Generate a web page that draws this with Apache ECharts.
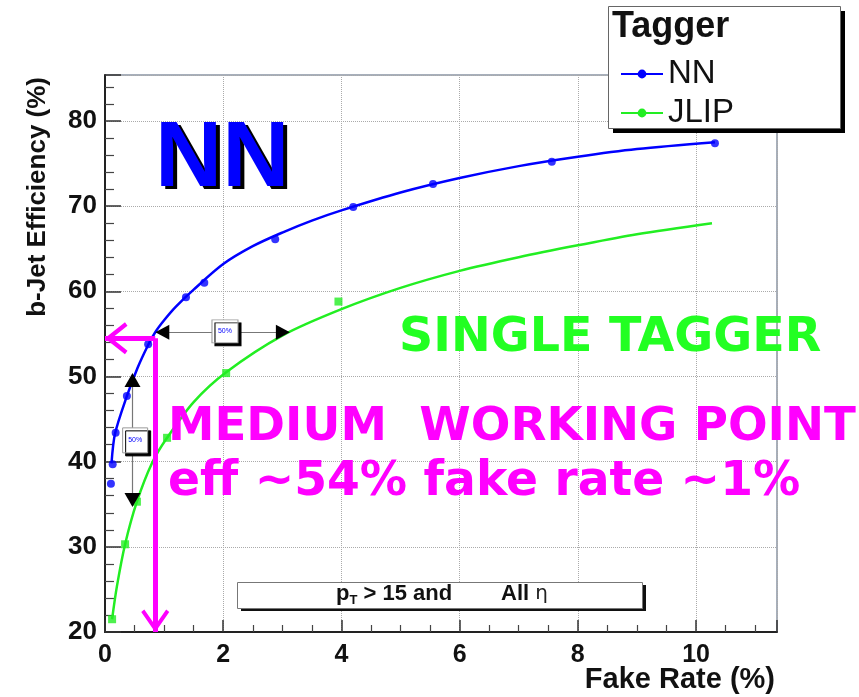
<!DOCTYPE html>
<html>
<head>
<meta charset="utf-8">
<script src="https://cdn.jsdelivr.net/npm/echarts@6.0.0/dist/echarts.min.js"></script>
<style>
  html, body { margin: 0; padding: 0; background: #fff; }
  #main { width: 859px; height: 697px; }
</style>
</head>
<body>
<div id="main"></div>
<script>
// measured points (fake rate %, b-jet efficiency %)
var nnFake = [0.10, 0.13, 0.18, 0.37, 0.73, 1.37, 1.68, 2.88, 4.20, 5.55, 7.56, 10.32];
var nnEff = [37.4, 39.7, 43.4, 47.7, 53.8, 59.3, 61.0, 66.1, 69.9, 72.6, 75.2, 77.4];
var jlipFake = [0.12, 0.34, 0.54, 1.05, 2.05, 3.95];
var jlipEff = [21.5, 30.3, 35.3, 42.8, 50.4, 58.8];

// fitted curves
var nnFitFake = [0.11, 0.17, 0.37, 0.55, 0.73, 0.85, 1.0, 1.2, 1.5, 2.0, 2.5, 3.0, 3.5, 4.0, 5.0, 6.0, 7.0, 8.0, 9.0, 10.32];
var nnFitEff = [39.8, 43.3, 47.7, 51.0, 53.7, 55.2, 56.6, 58.2, 60.2, 63.2, 65.3, 66.9, 68.3, 69.5, 71.6, 73.3, 74.7, 75.8, 76.7, 77.5];
var jlipFitFake = [0.12, 0.2, 0.34, 0.54, 0.8, 1.05, 1.5, 2.05, 3.0, 4.0, 5.0, 6.0, 7.0, 8.0, 9.0, 10.27];
var jlipFitEff = [21.5, 25.3, 30.3, 35.3, 39.9, 42.8, 47.0, 50.5, 54.8, 57.9, 60.4, 62.4, 64.0, 65.4, 66.7, 68.0];

// working point marked by the arrows
var wpFake = 0.85;
var wpEff = 54.5;

var blue = '#0000ff';
var green = '#22ee22';
var magenta = '#ff00ff';

function pairs(xs, ys) {
    return xs.map(function (x, i) { return [x, ys[i]]; });
}

// open arrow head, apex sits at the centre of the bounding box
var chevron = 'path://M16,0 L16,0.1 M16,22 L32,42 L28.5,44.5 L16,29 L3.5,44.5 L0,42 Z';

var chart = echarts.init(document.getElementById('main'));

var option = {
    animation: false,
    grid: {
        left: 105, right: 82, top: 75, bottom: 65,
        show: true, borderColor: '#8a95a5', borderWidth: 1.5
    },
    legend: {
        data: ['NN', 'JLIP'],
        orient: 'vertical',
        left: 615, top: 52,
        itemWidth: 42, itemHeight: 11, itemGap: 5,
        z: 12,
        textStyle: {fontFamily: 'Liberation Sans', fontSize: 33, color: '#111', lineHeight: 34}
    },
    xAxis: {
        type: 'value', min: 0, max: 11.37, interval: 2,
        name: 'Fake Rate (%)', nameLocation: 'end', nameGap: -2, nameMoveOverlap: false,
        nameTextStyle: {
            fontFamily: 'Liberation Sans', fontWeight: 'bold', fontSize: 29, color: '#111',
            align: 'right', verticalAlign: 'top', padding: [33, 0, 0, 0]
        },
        axisLine: {show: true, onZero: false, lineStyle: {color: '#222', width: 2}},
        axisTick: {show: true, inside: true, length: 12, lineStyle: {color: '#333', width: 1.5}},
        minorTick: {show: true, splitNumber: 4, length: 7, lineStyle: {color: '#444', width: 1.2}},
        axisLabel: {
            fontFamily: 'Liberation Sans', fontWeight: 'bold', fontSize: 25, color: '#111',
            margin: 11, showMaxLabel: false
        },
        splitLine: {show: true, lineStyle: {color: '#aaa', type: 'dotted', width: 1}}
    },
    yAxis: {
        type: 'value', min: 20, max: 85.4, interval: 10,
        name: 'b-Jet Efficiency (%)', nameLocation: 'end', nameGap: -2, nameRotate: 90,
        nameMoveOverlap: false,
        nameTextStyle: {
            fontFamily: 'Liberation Sans', fontWeight: 'bold', fontSize: 26, color: '#111',
            align: 'right', verticalAlign: 'bottom', padding: [0, 0, 54, 0]
        },
        axisLine: {show: true, onZero: false, lineStyle: {color: '#222', width: 2}},
        axisTick: {show: true, inside: true, length: 16, lineStyle: {color: '#333', width: 1.5}},
        minorTick: {show: true, splitNumber: 5, length: 9, lineStyle: {color: '#444', width: 1.2}},
        axisLabel: {
            fontFamily: 'Liberation Sans', fontWeight: 'bold', fontSize: 26, color: '#111',
            margin: 8, showMaxLabel: false
        },
        splitLine: {show: true, lineStyle: {color: '#aaa', type: 'dotted', width: 1}}
    },
    series: [
        {
            name: 'NN', type: 'line', smooth: 0.3,
            data: pairs(nnFitFake, nnFitEff),
            showSymbol: false, symbol: 'circle',
            itemStyle: {color: blue},
            lineStyle: {color: blue, width: 2.5},
            z: 3
        },
        {
            name: 'JLIP', type: 'line', smooth: 0.3,
            data: pairs(jlipFitFake, jlipFitEff),
            showSymbol: false, symbol: 'circle',
            itemStyle: {color: green},
            lineStyle: {color: green, width: 2.5},
            z: 3
        },
        {
            name: 'NN', type: 'scatter',
            data: pairs(nnFake, nnEff),
            symbol: 'circle', symbolSize: 8,
            itemStyle: {color: blue},
            z: 4
        },
        {
            name: 'JLIP', type: 'scatter',
            data: pairs(jlipFake, jlipEff),
            symbol: 'rect', symbolSize: 8,
            itemStyle: {color: green},
            z: 4
        },
        {
            // annotations: double arrows, 50% boxes and the working point arrows
            name: 'notes', type: 'line', data: [],
            markLine: {
                silent: true, animation: false,
                symbol: ['none', 'none'],
                label: {show: false},
                data: [
                    [{coord: [0.97, 55.2], lineStyle: {color: '#777', width: 1.2, type: 'solid'}}, {coord: [3.01, 55.2]}],
                    [{coord: [0.465, 49.6], lineStyle: {color: '#777', width: 1.2, type: 'solid'}}, {coord: [0.465, 35.5]}],
                    [{coord: [wpFake, wpEff], lineStyle: {color: magenta, width: 5, type: 'solid'}},
                        {coord: [0, wpEff], symbol: chevron, symbolSize: [32, 45]}],
                    [{coord: [wpFake, wpEff], lineStyle: {color: magenta, width: 5, type: 'solid'}},
                        {coord: [wpFake, 20], symbol: chevron, symbolSize: [28, 45]}]
                ]
            },
            markPoint: {
                silent: true, animation: false,
                data: [
                    {coord: [0.97, 55.2], symbol: 'triangle', symbolRotate: 90, symbolSize: [15, 14], itemStyle: {color: '#000'}, label: {show: false}},
                    {coord: [3.01, 55.2], symbol: 'triangle', symbolRotate: -90, symbolSize: [15, 14], itemStyle: {color: '#000'}, label: {show: false}},
                    {coord: [0.465, 49.6], symbol: 'triangle', symbolSize: [16, 14], itemStyle: {color: '#000'}, label: {show: false}},
                    {coord: [0.465, 35.5], symbol: 'triangle', symbolRotate: 180, symbolSize: [16, 14], itemStyle: {color: '#000'}, label: {show: false}},
                    {coord: [2.03, 55.3], symbol: 'rect', symbolSize: [26, 23],
                        itemStyle: {color: '#fff', borderColor: '#999', borderWidth: 1, shadowColor: '#000', shadowOffsetX: 3, shadowOffsetY: 3, shadowBlur: 0},
                        label: {show: true, formatter: '50%', color: blue, fontSize: 7, position: 'inside'}},
                    {coord: [0.51, 42.5], symbol: 'rect', symbolSize: [25, 25],
                        itemStyle: {color: '#fff', borderColor: '#999', borderWidth: 1, shadowColor: '#000', shadowOffsetX: 3, shadowOffsetY: 3, shadowBlur: 0},
                        label: {show: true, formatter: '50%', color: blue, fontSize: 7, position: 'inside'}}
                ]
            },
            z: 6
        }
    ],
    graphic: [
        // legend frame
        {type: 'rect', left: 613, top: 11, z: 10, shape: {width: 232, height: 122}, style: {fill: '#000'}},
        {type: 'rect', left: 608, top: 6, z: 10, shape: {width: 232, height: 122}, style: {fill: '#fff', stroke: '#666', lineWidth: 1}},
        {type: 'text', left: 612, top: 9, z: 11,
            style: {text: 'Tagger', font: 'bold 36px "Liberation Sans"', fill: '#111'}},
        // big labels (the black copy is the drop shadow)
        {type: 'text', left: 159, top: 117, z: 7,
            style: {text: 'NN', font: 'bold 93px "Liberation Sans"', fill: '#000'}},
        {type: 'text', left: 155, top: 114, z: 7,
            style: {text: 'NN', font: 'bold 93px "Liberation Sans"', fill: blue}},
        {type: 'text', left: 399, top: 315, z: 7,
            style: {text: 'SINGLE TAGGER', font: 'bold 47.5px "DejaVu Sans"', fill: '#22ff22'}},
        {type: 'text', left: 168, top: 404, z: 7,
            style: {text: 'MEDIUM  WORKING POINT', font: 'bold 46.7px "DejaVu Sans"', fill: magenta}},
        {type: 'text', left: 168, top: 459, z: 7,
            style: {text: 'eff ~54% fake rate ~1%', font: 'bold 47.2px "DejaVu Sans"', fill: magenta}},
        // cut box
        {type: 'rect', left: 241, top: 585, z: 7, shape: {width: 405, height: 26}, style: {fill: '#111'}},
        {type: 'rect', left: 237, top: 582, z: 7, shape: {width: 405, height: 26}, style: {fill: '#fff', stroke: '#777', lineWidth: 1}},
        {type: 'text', left: 336, top: 583, z: 8,
            style: {
                text: '{p|p}{s|T}{t| > 15 and        All }{e|η}',
                rich: {
                    p: {fontFamily: 'Liberation Sans', fontWeight: 'bold', fontSize: 22, fill: '#111'},
                    s: {fontFamily: 'Liberation Sans', fontWeight: 'bold', fontSize: 13, fill: '#111', padding: [12, 0, 0, 0]},
                    t: {fontFamily: 'Liberation Sans', fontWeight: 'bold', fontSize: 22, fill: '#111'},
                    e: {fontFamily: 'DejaVu Sans', fontWeight: 'normal', fontSize: 20, fill: '#222'}
                }
            }}
    ]
};

chart.setOption(option);
</script>
</body>
</html>
